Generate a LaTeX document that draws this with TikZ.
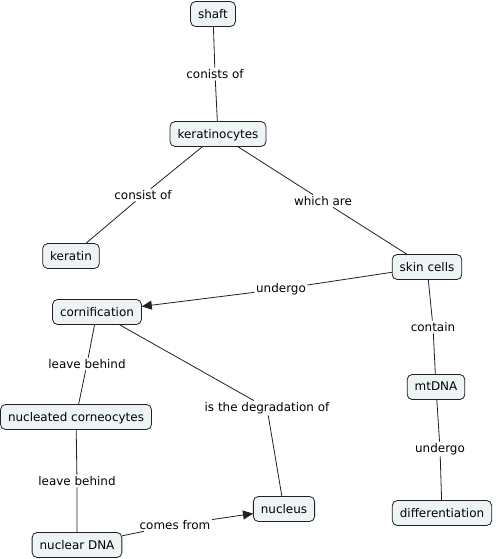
\documentclass[tikz,border=0pt]{standalone}
\usepackage{fontspec}
\setmainfont{DejaVu Sans}
\usetikzlibrary{arrows.meta}
\definecolor{boxfill}{HTML}{EEF3F5}
\definecolor{linecol}{HTML}{202020}
\begin{document}
\begin{tikzpicture}[x=1bp,y=-1bp,
  concept/.style={draw=linecol,fill=boxfill,rounded corners=5bp,line width=0.8bp,
    font=\fontsize{12}{14}\selectfont,inner xsep=7.5bp,inner ysep=0bp,minimum height=25bp,text depth=1bp},
  lbl/.style={font=\fontsize{12}{14}\selectfont,inner sep=1.5bp,fill=white},
  conn/.style={draw=linecol,line width=0.8bp},
  arr/.style={conn,-{Triangle[length=10bp,width=9bp]}}]
\useasboundingbox (0,0) rectangle (496,559);
\node[concept] (shaft) at (213,14) {shaft};
\node[concept] (kera) at (218,134) {keratinocytes};
\node[concept] (keratin) at (71,256) {keratin};
\node[concept] (skin) at (427,267) {skin cells};
\node[concept] (corn) at (97,312) {cornification};
\node[concept] (mt) at (436,387) {mtDNA};
\node[concept] (nc) at (76,417) {nucleated corneocytes};
\node[concept] (nucleus) at (284,509) {nucleus};
\node[concept] (diff) at (442,513) {differentiation};
\node[concept] (ndna) at (77,545) {nuclear DNA};

\node[lbl] (l1) at (215,74) {conists of};
\node[lbl] (l2) at (143,195) {consist of};
\node[lbl] (l3) at (323,201) {which are};
\node[lbl] (l4) at (281,289) {undergo};
\node[lbl] (l5) at (433,327) {contain};
\node[lbl] (l6) at (87,364) {leave behind};
\node[lbl] (l7) at (267,408) {is the degradation of};
\node[lbl] (l8) at (440,449) {undergo};
\node[lbl] (l9) at (77,481) {leave behind};
\node[lbl] (l10) at (175,525) {comes from};

\draw[conn] (shaft) -- (l1) -- (kera);
\draw[conn] (kera) -- (l2) -- (keratin);
\draw[conn] (kera) -- (l3) -- (skin);
\draw[conn] (skin) -- (l4);
\draw[arr] (l4) -- (corn);
\draw[conn] (skin) -- (l5) -- (mt);
\draw[conn] (corn) -- (l6) -- (nc);
\draw[conn] (corn) -- (l7) -- (nucleus);
\draw[conn] (mt) -- (l8) -- (diff);
\draw[conn] (nc) -- (l9) -- (ndna);
\draw[conn] (ndna) -- (l10);
\draw[arr] (l10) -- (nucleus);
\end{tikzpicture}
\end{document}
